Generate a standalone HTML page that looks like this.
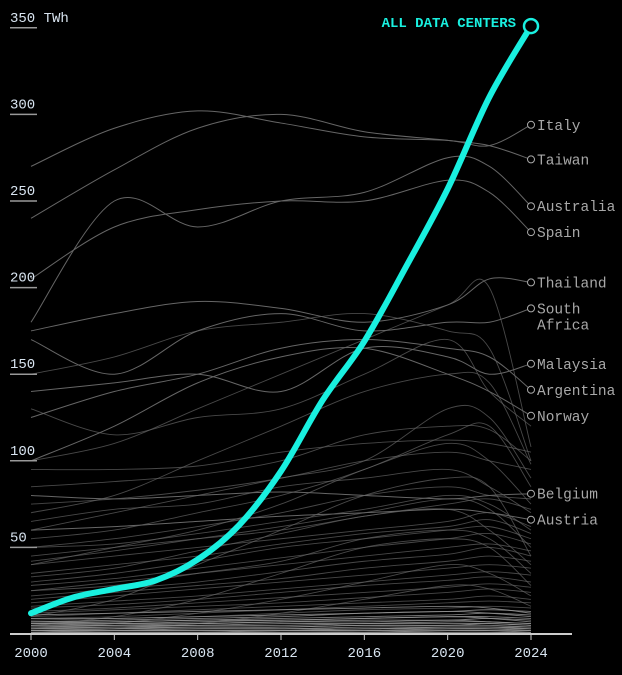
<!DOCTYPE html>
<html><head><meta charset="utf-8"><style>
html,body{margin:0;padding:0;background:#000;width:622px;height:675px;overflow:hidden}
svg{display:block}
</style></head><body>
<svg id="chart" width="622" height="675" viewBox="0 0 622 675" xmlns="http://www.w3.org/2000/svg">
<g id="grey"></g>
<g id="axes"></g>
<g id="main"></g>
<g id="labels"></g>
</svg>
<script>
const years = [2000,2004,2008,2012,2016,2020,2022,2024];
const yTicks = [50,100,150,200,250,300,350];
const xTicks = [2000,2004,2008,2012,2016,2020,2024];
const allYears = [2000,2002,2004,2006,2008,2010,2012,2014,2016,2018,2020,2022,2024];
const allValues = [12,21,26,31,43,63,94,135,169,212,257,310,351];
const labeledNames = ["Italy","Taiwan","Australia","Spain","Thailand","South Africa","Malaysia","Argentina","Norway","Belgium","Austria"];
const labeledValues = [
 [270,292,302,295,287,285,282,294],
 [240,268,292,300,290,285,282,274],
 [180,250,235,250,255,275,270,247],
 [205,235,245,250,250,262,255,232],
 [175,185,192,188,180,190,205,203],
 [170,150,175,185,175,180,180,188],
 [140,145,150,140,165,160,150,156],
 [125,140,150,165,170,165,160,141],
 [100,120,145,160,165,150,140,126],
 [80,78,80,82,80,78,80,81],
 [60,62,65,68,70,72,70,66]
];
const otherValues = [
 [95,95,97,105,110,112,110,105],[85,88,92,100,115,120,118,100],[70,80,100,120,140,150,145,98],
 [75,78,83,90,100,105,100,95],[60,70,80,90,100,130,125,90],[55,60,70,80,95,115,120,85],
 [50,55,62,70,80,85,80,78],[40,50,60,75,95,110,100,75],[45,50,55,60,68,75,78,72],
 [40,45,50,55,60,65,70,62],[35,40,45,52,58,62,66,58],[30,35,42,50,55,60,62,55],
 [28,32,38,44,50,55,58,52],[25,30,35,40,45,50,52,48],[22,26,30,36,42,46,50,45],
 [20,24,28,32,38,42,45,42],[18,22,26,30,34,38,40,38],[16,19,22,26,30,34,36,34],
 [15,17,20,24,28,31,33,30],[13,15,18,21,24,27,29,27],[12,14,16,18,21,24,26,24],
 [10,12,14,16,18,20,22,20],[9,10,12,14,16,18,19,18],[8,9,10,12,14,15,16,15],
 [7,8,9,10,12,13,14,13],[6,7,8,9,10,11,12,11],[5,6,7,8,9,10,10,9],
 [4,5,6,7,8,8,9,8],[3,4,5,5,6,7,7,6],[2,3,4,4,5,5,6,5],[2,2,3,3,4,4,4,4],
 [1,2,2,2,3,3,3,3],[1,1,1,2,2,2,2,2],[0,1,1,1,1,1,1,1],
 [65,72,75,85,90,95,85,70],[50,52,58,65,72,80,75,60],[42,48,55,62,70,78,72,50],
 [33,38,48,58,68,72,60,40],[25,28,35,42,55,60,55,35],[100,110,130,150,170,190,200,108],
 [130,115,125,130,150,170,140,120],[150,160,175,180,185,175,165,100],[10,20,40,60,80,90,85,45],
 [5,10,20,35,50,55,50,28],[3,6,12,20,30,40,35,22],[1,3,6,12,20,28,26,16],
 [11,12,13,14,15,16,15,12],[9,9,10,11,12,13,12,10],[7,7,8,8,9,10,9,7],
 [6,6,6,7,7,8,7,6],[5,5,5,6,6,6,6,5],[4,4,4,4,5,5,5,4],[3,3,3,3,3,4,4,3],
 [2,2,2,2,2,3,3,2],[1,1,1,1,1,2,2,1],[0.5,0.5,0.5,1,1,1,1,0.5]
];
const NS='http://www.w3.org/2000/svg';
const x = y => 31 + (y-2000)*500/24;
const yv = v => 634 - v*1.732;
function curve(xs, vs){
  const p = xs.map((a,i)=>[x(a),yv(vs[i])]);
  let d = 'M'+p[0][0]+','+p[0][1];
  for(let i=0;i<p.length-1;i++){
    const p0=p[Math.max(i-1,0)],p1=p[i],p2=p[i+1],p3=p[Math.min(i+2,p.length-1)];
    const c1=[p1[0]+(p2[0]-p0[0])/6,p1[1]+(p2[1]-p0[1])/6];
    const c2=[p2[0]-(p3[0]-p1[0])/6,p2[1]-(p3[1]-p1[1])/6];
    d+=` C${c1[0]},${c1[1]} ${c2[0]},${c2[1]} ${p2[0]},${p2[1]}`;
  }
  return d;
}
function mk(tag,attrs,parent){const e=document.createElementNS(NS,tag);for(const k in attrs)e.setAttribute(k,attrs[k]);parent.appendChild(e);return e;}
const grey=document.getElementById('grey');
otherValues.forEach(vs=>{
  const low = vs[7] < 15;
  const e=mk('path',{d:curve(years,vs),fill:'none',stroke:low?'#999':'#666','stroke-width':0.9,'stroke-opacity':low?0.8:0.7},grey);
  
  
});
const labels=document.getElementById('labels');
labeledValues.forEach((vs,i)=>{
  const e=mk('path',{d:curve(years,vs),fill:'none',stroke:'#666','stroke-width':1},grey);
  
  
  const c=mk('circle',{cx:x(2024),cy:yv(vs[7]),r:3.5,fill:'#000',stroke:'#aaa','stroke-width':1},labels);
  
  
  const parts=labeledNames[i].split(' ');
  parts.forEach((pt,j)=>{
    const t=mk('text',{x:537,y:yv(vs[7])+5+j*16,fill:'#a8a8a8','font-family':'Liberation Mono, monospace','font-size':14.5},labels);
    t.textContent=pt;
    
    
  });
});
const axes=document.getElementById('axes');
const xl=mk('line',{x1:10,x2:572,y1:634,y2:634,stroke:'#ccc','stroke-width':2},axes);


xTicks.forEach(t=>{
  const tk=mk('line',{x1:x(t),x2:x(t),y1:634,y2:640,stroke:'#ccc','stroke-width':1},axes);
  
  
  const tx=mk('text',{x:x(t),y:657,'text-anchor':'middle',fill:'#d8e4f0','font-family':'Liberation Mono, monospace','font-size':14},axes);
  tx.textContent=t;
  
  
});
yTicks.forEach(t=>{
  const ul=mk('line',{x1:10,x2:37,y1:yv(t),y2:yv(t),stroke:'#999','stroke-width':1.5},axes);
  
  
  const tx=mk('text',{x:10,y:yv(t)-6,fill:'#d8e4f0','font-family':'Liberation Mono, monospace','font-size':14},axes);
  tx.textContent=t+(t===350?' TWh':'');
  
  
});
const main=document.getElementById('main');
const mp=mk('path',{d:curve(allYears,allValues),fill:'none',stroke:'#19f0e0','stroke-width':6,'stroke-linecap':'round'},main);


const mc=mk('circle',{cx:x(2024),cy:yv(allValues[allValues.length-1]),r:7,fill:'#000',stroke:'#19f0e0','stroke-width':2.5},main);


const ml=mk('text',{x:516,y:yv(allValues[allValues.length-1])+1,'text-anchor':'end',fill:'#19f0e0','font-family':'Liberation Mono, monospace','font-size':14,'font-weight':'bold'},main);
ml.textContent='ALL DATA CENTERS';


</script>
</body></html>
